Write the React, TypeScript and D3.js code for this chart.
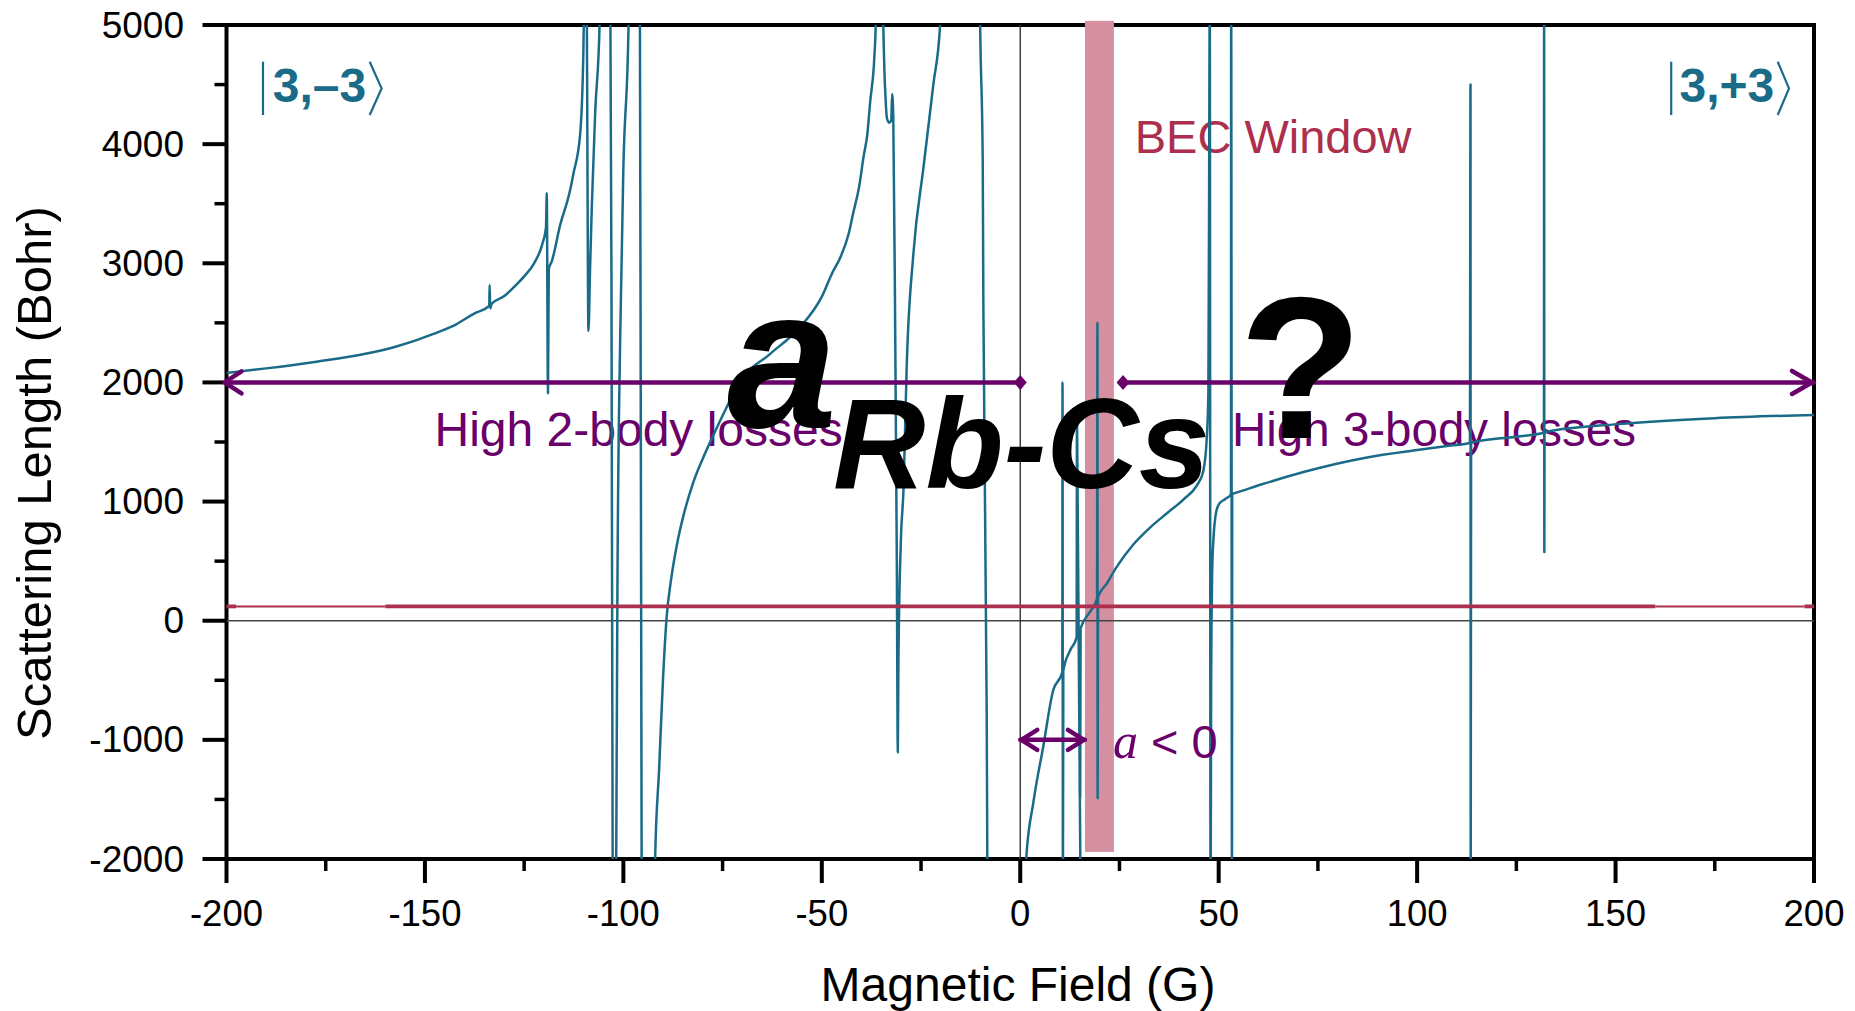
import React from 'react';
import * as d3 from 'd3';

// Rb–Cs interspecies scattering length versus magnetic field, |3,−3⟩ … |3,+3⟩.
// Values outside the axis range mark poles (the line leaves the frame); NaN breaks the line.
const fieldG: number[] = [
  -200, -190, -177.3, -165, -157.4, -147.5, -142, -137.5, -134.1, -133.8, -133.7, -133.55, -133.2,
  -130, -127.5, -125, -122.5, -120.5, -119.5, -119.3, -119.0, -118.8, -118.0, -115.9, -113.6, -112.6,
  -110.9, -110.1, -109.8, -109.3, -108.8, -108.4, -107.96, -107.1, -106.0, -105.8, -103.3, -103.0,
  -102.7, -102.65, -101.85, -101.8, -101.5, -100.8, -100.0, -98.7, -98.6, -95.85, -95.4, -95.35,
  -92.1, -92.0, -91.0, -90.0, -89.1, -88.0, -86.5, -84.9, -82.4, -80.0, -77.3, -74.0, -70.6, -63.0,
  -55.7, -50.0, -47.4, -45.4, -43.2, -42.1, -40.6, -39.5, -38.5, -37.8, -36.9, -36.6, -36.0, -34.9,
  -34.1, -33.6, -33.0, -32.5, -32.3, -32.0, -31.5, -31.1, -30.85, -30.7, -30.1, -29.4, -28.6, -26.9,
  -24.4, -21.9, -20.2, -19.9, -10.2, -10.1, -9.45, -9.3, -8.45, -8.3, -8.2, 1.4, 1.5, 3.3, 5.8, 8.3,
  10.5, 10.6, 10.65, 10.75, 10.85, 12.5, 14.2, 14.3, 15.2, 15.25, 14.9, 15.0, 15.1, 15.2, 17.6, 19.35,
  19.45, 19.5, 19.6, 21.8, 24.3, 28.5, 32.7, 36.9, 41.1, 44.5, 46.1, 47.0, 47.4, 47.6, 47.7, 47.75,
  47.95, 48.0, 48.1, 48.2, 48.35, 48.7, 49.2, 50.0, 51.6, 53.1, 53.15, 53.35, 53.4, 53.7, 61.1, 71.6,
  87.4, 100, 108.4, 113.3, 113.45, 113.5, 113.6, 125, 131.95, 132.0, 132.05, 132.1, 150.6, 175, 200,
];
const scatteringBohr: number[] = [
  2080, 2118, 2174, 2240, 2300, 2412, 2490, 2580, 2635, 2645, 2818, 2620, 2660,
  2725, 2803, 2890, 3000, 3153, 3300, 3590, 1910, 2950, 3020, 3326, 3587, 3750,
  4079, 4740, 5300, 5300, 2432, 2948, 3467, 4270, 5000, 5300, 5300, 2855,
  -2000, -2300, -2300, -2000, 266, 2383, 3800, 5000, 5300, 5300, -2000, -2300,
  -2300, -2000, -1250, -480, 28, 340, 640, 878, 1159, 1360, 1559, 1790, 2007, 2240,
  2456, 2720, 2917, 3044, 3252, 3420, 3643, 3890, 4093, 4360, 4650, 4830, 5300, 5300,
  4500, 4220, 4180, 4200, 4420, 4250, 2383, 500, -1105, -350, 650, 1113, 2148, 3090,
  3800, 4500, 5000, 5300, 5300, 5000, 3844, 2667, -772, -2000, -2300, -2300, -2000, -1526, -1055, -584,
  -442, -430, 2000, -2300, -420, -254, -140, 1750, -2300, NaN, -95, -1480, -1480, -65, 76, 185,
  2500, -1490, 200, 311, 452, 640, 782, 900, 1017, 1136, 1253, 1536, 1913, 3800, 5000, 5300,
  -2300, -2000, -500, 0, 400, 700, 880, 975, 1020, 1060, 5300, -2300, 1065, 1068, 1147, 1250,
  1370, 1432, 1470, 1492, 4500, -2300, 1494, 1545, 1578, 5300, 577, 1582, 1650, 1700, 1727,
];

const xMajorTicks = [-200, -150, -100, -50, 0, 50, 100, 150, 200];
const xMinorTicks = [-175, -125, -75, -25, 25, 75, 125, 175];
const yMajorTicks = [-2000, -1000, 0, 1000, 2000, 3000, 4000, 5000];
const yMinorTicks = [-1500, -500, 500, 1500, 2500, 3500, 4500];

// Reference level drawn across the plot, with its thick and thin stretches.
const refLevel = 120;
const refThick: [number, number][] = [[-200, -197.6], [-160, 160], [197.6, 200]];
const refThin: [number, number][] = [[-197.6, -160], [160, 197.6]];

// BEC window (field range) and its vertical extent.
const becWindow: [number, number] = [16.3, 23.6];
const becExtent: [number, number] = [-1940, 5035];

// Loss-regime arrows at 2000 Bohr, and the a<0 span at −1000 Bohr.
const lossLevel = 2000;
const twoBodySpan: [number, number] = [-200, 0];
const threeBodySpan: [number, number] = [25.9, 200];
const negativeLevel = -1000;
const negativeSpan: [number, number] = [0, 16.3];

const TEAL = '#1a6b88';
const PURPLE = '#6a006a';
const CRIMSON = '#ad2f4e';
const SANS = '"Liberation Sans", Arial, sans-serif';

export default function App() {
  const x = d3.scaleLinear().domain([-200, 200]).range([226.5, 1814]);
  const y = d3.scaleLinear().domain([-2000, 5000]).range([859, 25]);

  const pts: [number, number][] = fieldG.map((b, i) => [b, scatteringBohr[i]]);
  const line = d3
    .line<[number, number]>()
    .defined((d) => Number.isFinite(d[1]))
    .curve(d3.curveMonotoneX)
    .x((d) => x(d[0]))
    .y((d) => y(d[1]));

  const [x0, x1] = x.range();
  const [yb, yt] = y.range();

  const chevron = (tipX: number, tipY: number, dir: number, back: number, half: number) =>
    `M${tipX + dir * back},${tipY - half}L${tipX},${tipY}L${tipX + dir * back},${tipY + half}`;
  const diamond = (cx: number, cy: number, w: number, h: number) =>
    `M${cx},${cy - h}L${cx + w},${cy}L${cx},${cy + h}L${cx - w},${cy}Z`;

  const ly = y(lossLevel);
  const ny = y(negativeLevel);

  return (
    <svg
      width={1855}
      height={1011}
      style={{ position: 'fixed', left: 0, top: 0, background: '#fff' }}
      fontFamily={SANS}
    >
      <defs>
        <clipPath id="plot-clip">
          <rect x={x0} y={yt} width={x1 - x0} height={yb - yt} />
        </clipPath>
      </defs>
      <rect x={0} y={0} width={1855} height={1011} fill="#fff" />

      {/* frame */}
      <rect x={x0} y={yt} width={x1 - x0} height={yb - yt} fill="none" stroke="#000" strokeWidth={4} />

      {/* ticks */}
      {yMajorTicks.map((t) => (
        <line key={'ym' + t} x1={x0 - 24} x2={x0} y1={y(t)} y2={y(t)} stroke="#000" strokeWidth={4} />
      ))}
      {yMinorTicks.map((t) => (
        <line key={'yn' + t} x1={x0 - 12} x2={x0} y1={y(t)} y2={y(t)} stroke="#000" strokeWidth={3.5} />
      ))}
      {xMajorTicks.map((t) => (
        <line key={'xm' + t} x1={x(t)} x2={x(t)} y1={yb} y2={yb + 24} stroke="#000" strokeWidth={4} />
      ))}
      {xMinorTicks.map((t) => (
        <line key={'xn' + t} x1={x(t)} x2={x(t)} y1={yb} y2={yb + 12} stroke="#000" strokeWidth={3.5} />
      ))}

      {/* tick labels */}
      {yMajorTicks.map((t) => (
        <text key={'yl' + t} x={184} y={y(t)} textAnchor="end" dominantBaseline="central" fontSize={37} fill="#000">
          {String(t)}
        </text>
      ))}
      {xMajorTicks.map((t) => (
        <text key={'xl' + t} x={x(t)} y={926} textAnchor="middle" fontSize={36.5} fill="#000">
          {String(t)}
        </text>
      ))}

      {/* axis titles */}
      <text x={1018} y={1001} textAnchor="middle" fontSize={48} fill="#000">
        Magnetic Field (G)
      </text>
      <text transform="translate(51,473) rotate(-90)" textAnchor="middle" fontSize={49} fill="#000">
        Scattering Length (Bohr)
      </text>

      {/* regime labels */}
      <text x={434.5} y={446} fontSize={48} fill={PURPLE}>
        High 2-body losses
      </text>
      <text x={1232} y={446} fontSize={47.5} fill={PURPLE}>
        High 3-body losses
      </text>
      <text x={1134.7} y={153} fontSize={47} fill={CRIMSON}>
        BEC Window
      </text>

      {/* BEC window band */}
      <rect
        x={x(becWindow[0])}
        y={y(becExtent[1])}
        width={x(becWindow[1]) - x(becWindow[0])}
        height={y(becExtent[0]) - y(becExtent[1])}
        fill="#d48fa0"
      />

      {/* zero lines */}
      <line x1={x0} x2={x1} y1={y(0)} y2={y(0)} stroke="#444" strokeWidth={1.4} />
      <line x1={x(0)} x2={x(0)} y1={yt} y2={yb} stroke="#333" strokeWidth={1.4} />

      {/* scattering length curve */}
      <g clipPath="url(#plot-clip)">
        <path d={line(pts) ?? ''} fill="none" stroke={TEAL} strokeWidth={2.5} strokeLinejoin="round" />
      </g>

      {/* reference level */}
      {refThin.map(([a, b], i) => (
        <line key={'rt' + i} x1={x(a)} x2={x(b)} y1={y(refLevel)} y2={y(refLevel)} stroke={CRIMSON} strokeWidth={2} />
      ))}
      {refThick.map(([a, b], i) => (
        <line key={'rk' + i} x1={x(a)} x2={x(b)} y1={y(refLevel)} y2={y(refLevel)} stroke={CRIMSON} strokeWidth={3.8} />
      ))}

      {/* loss regime arrows */}
      <g stroke={PURPLE} strokeWidth={4.5} fill="none" strokeLinecap="round" strokeLinejoin="round">
        <line x1={x(twoBodySpan[0])} x2={x(twoBodySpan[1])} y1={ly} y2={ly} />
        <path d={chevron(x(twoBodySpan[0]) - 2, ly, 1, 17, 11)} />
        <line x1={x(threeBodySpan[0])} x2={x(threeBodySpan[1])} y1={ly} y2={ly} />
        <path d={chevron(x(threeBodySpan[1]) - 2, ly, -1, 20, 11.5)} />
        <line x1={x(negativeSpan[0])} x2={x(negativeSpan[1])} y1={ny} y2={ny} />
        <path d={chevron(x(negativeSpan[0]) + 1, ny, 1, 16, 10)} />
        <path d={chevron(x(negativeSpan[1]) - 1, ny, -1, 16, 10)} />
      </g>
      <path d={diamond(x(twoBodySpan[1]), ly, 6.5, 7.5)} fill={PURPLE} />
      <path d={diamond(x(threeBodySpan[0]), ly, 6.5, 7.5)} fill={PURPLE} />

      <text x={1113} y={757.6} fill={PURPLE}>
        <tspan fontFamily={'"Liberation Serif", "Times New Roman", serif'} fontStyle="italic" fontSize={50}>
          a
        </tspan>
        <tspan fontSize={47}> {'< 0'}</tspan>
      </text>

      {/* title overlay */}
      <text x={727} y={427} fontSize={198} fontWeight="bold" fontStyle="italic" fill="#000">
        a
      </text>
      <text x={833} y={488} fontSize={128} fontWeight="bold" fontStyle="italic" fill="#000">
        Rb-Cs
      </text>
      <text x={1239} y={438} fontSize={202} fontWeight="bold" fill="#000">
        ?
      </text>

      {/* hyperfine state labels */}
      <g stroke={TEAL} fill="none" strokeWidth={2.2}>
        <line x1={263} x2={263} y1={61.7} y2={115} />
        <path d="M369.7,61.7L381.6,88.4L369.7,115" />
        <line x1={1671.2} x2={1671.2} y1={61.7} y2={115} />
        <path d="M1777.7,61.7L1789,88.4L1777.7,115" />
      </g>
      <text x={272.8} y={101.7} fontSize={48} fontWeight="bold" fill={TEAL}>
        3,–3
      </text>
      <text x={1679.5} y={101.7} fontSize={48} fontWeight="bold" fill={TEAL}>
        3,+3
      </text>
    </svg>
  );
}
